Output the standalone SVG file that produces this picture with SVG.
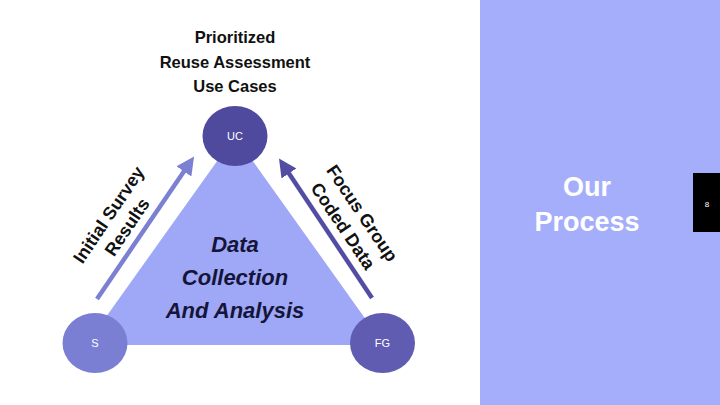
<svg xmlns="http://www.w3.org/2000/svg" width="720" height="405" viewBox="0 0 720 405">
<defs>
<style>
text{font-family:"Liberation Sans",Arial,sans-serif;font-weight:bold}
.title{font-size:16.5px;fill:#111111}
.lbl{font-size:18px;fill:#111111}
.node{font-size:11px;font-weight:normal;fill:#ffffff}
.center{font-size:22px;font-style:italic;fill:#15153a}
.side{font-size:27px;fill:#ffffff}
</style>
<marker id="ahL" viewBox="0 0 10 10" refX="5" refY="5" markerWidth="4" markerHeight="4" orient="auto" markerUnits="strokeWidth">
<path d="M0,0 L10,5 L0,10 z" fill="#7c80d2"/>
</marker>
<marker id="ahR" viewBox="0 0 10 10" refX="5" refY="5" markerWidth="4" markerHeight="4" orient="auto" markerUnits="strokeWidth">
<path d="M0,0 L10,5 L0,10 z" fill="#524da3"/>
</marker>
</defs>
<rect x="0" y="0" width="720" height="405" fill="#ffffff"/>
<rect x="480" y="0" width="240" height="405" fill="#a4aefa"/>
<rect x="693" y="173" width="27" height="59" fill="#000000"/>
<text x="707" y="207" text-anchor="middle" style="font-size:8px;font-weight:normal;fill:#ffffff">8</text>
<text class="side" x="587" y="196" text-anchor="middle">Our</text>
<text class="side" x="587" y="231" text-anchor="middle">Process</text>

<g id="title">
<text class="title" x="235" y="43" text-anchor="middle">Prioritized</text>
<text class="title" x="235" y="68" text-anchor="middle">Reuse Assessment</text>
<text class="title" x="235" y="92" text-anchor="middle">Use Cases</text>
</g>

<g id="triangle">
<polygon points="235,136 86,345 384,345" fill="#9ea8f7"/>
<text class="center" x="235" y="252" text-anchor="middle">Data</text>
<text class="center" x="235" y="285" text-anchor="middle">Collection</text>
<text class="center" x="235" y="318" text-anchor="middle">And Analysis</text>
</g>

<g id="connectors">
<line x1="97" y1="299" x2="189" y2="164" stroke="#7c80d2" stroke-width="4.5" marker-end="url(#ahL)"/>
<line x1="372" y1="298" x2="284" y2="166" stroke="#524da3" stroke-width="4.5" marker-end="url(#ahR)"/>
<text class="lbl" transform="translate(118,221) rotate(-56)" text-anchor="middle"><tspan x="0" y="-5">Initial Survey</tspan><tspan x="0" y="17">Results</tspan></text>
<text class="lbl" transform="translate(352,220) rotate(56)" text-anchor="middle"><tspan x="0" y="-6">Focus Group</tspan><tspan x="0" y="17">Coded Data</tspan></text>
</g>

<g id="UC">
<ellipse cx="235" cy="136" rx="32.5" ry="30" fill="#4f4a9d"/>
<text class="node" x="235" y="140" text-anchor="middle">UC</text>
</g>
<g id="S">
<ellipse cx="95" cy="343" rx="32.5" ry="30" fill="#7b7fd3"/>
<text class="node" x="95" y="347" text-anchor="middle">S</text>
</g>
<g id="FG">
<ellipse cx="382.5" cy="343" rx="32.5" ry="30" fill="#5f5cb1"/>
<text class="node" x="382.5" y="347" text-anchor="middle">FG</text>
</g>
</svg>
